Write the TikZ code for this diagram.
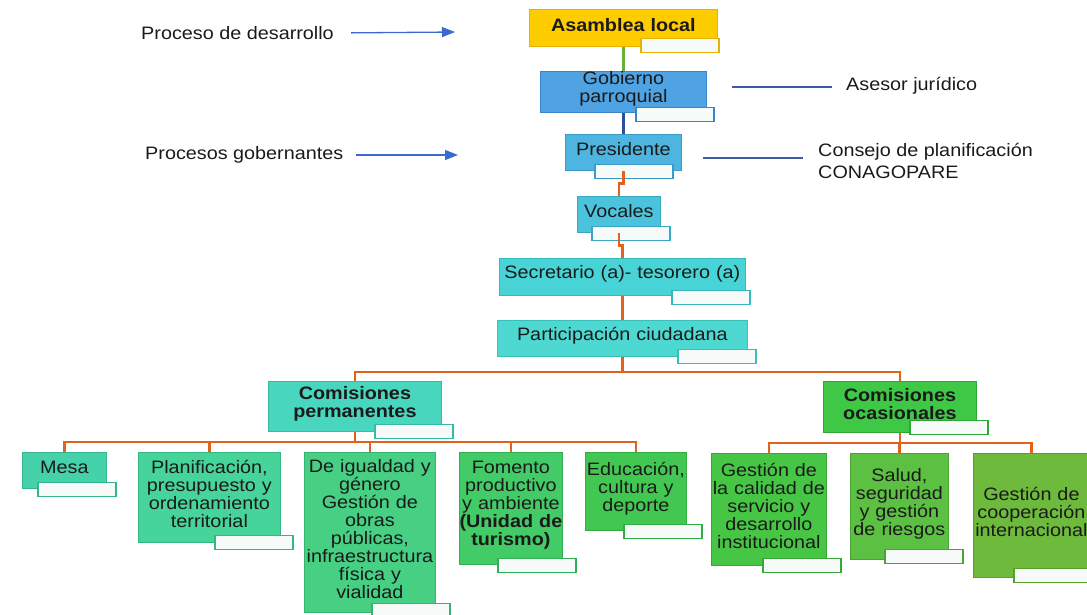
\documentclass[tikz,border=0pt]{standalone}
\usepackage{fontspec}
\setmainfont{Liberation Sans}[FakeStretch=1.1]
\usetikzlibrary{arrows.meta,calc}
\definecolor{asamF}{HTML}{FFCC00}\definecolor{asamD}{HTML}{E8B000}
\definecolor{gobF}{HTML}{4FA3E2}\definecolor{gobD}{HTML}{3A85C8}
\definecolor{presF}{HTML}{4DB5E0}\definecolor{presD}{HTML}{3A9ACB}
\definecolor{vocF}{HTML}{4CC3DD}\definecolor{vocD}{HTML}{38A8C4}
\definecolor{secF}{HTML}{48D3D6}\definecolor{secD}{HTML}{36B8BC}
\definecolor{partF}{HTML}{4DD9D2}\definecolor{partD}{HTML}{38BFB8}
\definecolor{permF}{HTML}{48D6BF}\definecolor{permD}{HTML}{35BBA5}
\definecolor{mesaF}{HTML}{45D2AA}\definecolor{mesaD}{HTML}{33B690}
\definecolor{planF}{HTML}{47D49A}\definecolor{planD}{HTML}{34B880}
\definecolor{igualF}{HTML}{47D084}\definecolor{igualD}{HTML}{35B46C}
\definecolor{fomF}{HTML}{43CB68}\definecolor{fomD}{HTML}{32AF52}
\definecolor{eduF}{HTML}{42C852}\definecolor{eduD}{HTML}{30AC40}
\definecolor{ocasF}{HTML}{3EC845}\definecolor{ocasD}{HTML}{2EA835}
\definecolor{calF}{HTML}{47C646}\definecolor{calD}{HTML}{35A835}
\definecolor{saludF}{HTML}{5CC142}\definecolor{saludD}{HTML}{48A532}
\definecolor{coopF}{HTML}{6DBA3C}\definecolor{coopD}{HTML}{58A02C}
\definecolor{orgline}{HTML}{E2621B}
\definecolor{grnline}{HTML}{6AAE3C}
\definecolor{bluline}{HTML}{2E4FA0}
\definecolor{arrblue}{HTML}{3A6AD0}
\definecolor{thinblue}{HTML}{3F5BA6}
\definecolor{txt}{HTML}{1A1A1A}
\definecolor{tagfill}{HTML}{F6FBF9}
\newcommand\tagat[4]{\node[tg=#2] (#1-t) at ($(#1.south east)+(#3,#4)$) {};}
\newcommand\liftend{\endgraf\vspace{6pt}}
\begin{document}
\begin{tikzpicture}[x=1pt,y=-1pt,
  font=\fontsize{18}{18}\selectfont, text=txt,
  bx/.style={draw=#1, line width=0.8pt, inner sep=0pt, anchor=north west, align=center,
    execute at end node={\liftend}},
  tg/.style={draw=#1, fill=tagfill, line width=1.5pt, minimum width=78pt, minimum height=14pt, inner sep=0pt, anchor=north east},
  lbl/.style={inner sep=0pt, anchor=west, align=left},
  org/.style={draw=orgline, line width=2.2pt},
  arr/.style={draw=arrblue, line width=1.3pt, -{Triangle[length=13pt,width=10pt]}},
  thin/.style={draw=thinblue, line width=1.2pt}]
\useasboundingbox (0,0) rectangle (1087,614);

% main column
\node[bx=asamD, fill=asamF, minimum width=188pt, minimum height=37pt, text width=184pt] (asam) at (529,9) {\textbf{Asamblea local}};
\node[bx=gobD, fill=gobF, minimum width=166pt, minimum height=37pt, text width=162pt] (gob) at (540,71) {Gobierno\\parroquial};
\node[bx=presD, fill=presF, minimum width=116pt, minimum height=36pt, text width=112pt] (pres) at (565,134) {Presidente};
\node[bx=vocD, fill=vocF, minimum width=83pt, minimum height=36pt, text width=79pt] (voc) at (577,196) {Vocales};
\node[bx=secD, fill=secF, minimum width=246pt, minimum height=37pt, text width=244pt] (sec) at (499,258) {Secretario (a)- tesorero (a)};
\node[bx=partD, fill=partF, minimum width=250pt, minimum height=36pt, text width=246pt] (part) at (497,320) {Participación ciudadana};

% commissions
\node[bx=permD, fill=permF, minimum width=173pt, minimum height=50pt, text width=169pt] (perm) at (268,381) {\textbf{Comisiones}\\\textbf{permanentes}};
\node[bx=ocasD, fill=ocasF, minimum width=153pt, minimum height=51pt, text width=149pt] (ocas) at (823,381) {\textbf{Comisiones}\\\textbf{ocasionales}};

\node[bx=mesaD, fill=mesaF, minimum width=84pt, minimum height=36pt, text width=80pt] (mesa) at (22,452) {Mesa};
\node[bx=planD, fill=planF, minimum width=142pt, minimum height=90pt, text width=140pt] (plan) at (138,452) {Planificación,\\presupuesto y\\ordenamiento\\territorial};
\node[bx=igualD, fill=igualF, minimum width=131pt, minimum height=160pt, text width=130pt] (igual) at (304,452) {De igualdad y\\género\\Gestión de\\obras\\públicas,\\infraestructura\\física y\\vialidad};
\node[bx=fomD, fill=fomF, minimum width=103pt, minimum height=112pt, text width=103pt] (fom) at (459,452) {Fomento\\productivo\\y ambiente\\\textbf{(Unidad de}\\\textbf{turismo)}};
\node[bx=eduD, fill=eduF, minimum width=101pt, minimum height=78pt, text width=99pt] (edu) at (585,452) {Educación,\\cultura y\\deporte};

\node[bx=calD, fill=calF, minimum width=115pt, minimum height=112pt, text width=114pt] (cal) at (711,453) {Gestión de\\la calidad de\\servicio y\\desarrollo\\institucional};
\node[bx=saludD, fill=saludF, minimum width=98pt, minimum height=106pt, text width=96pt] (salud) at (850,453) {Salud,\\seguridad\\y gestión\\de riesgos};
\node[bx=coopD, fill=coopF, minimum width=116pt, minimum height=124pt, text width=116pt] (coop) at (973,453) {Gestión de\\cooperación\\internacional};

% tags
\tagat{asam}{asamD}{2}{-9}
\tagat{gob}{gobD}{8}{-6}
\tagat{pres}{presD}{-8}{-7}
\tagat{voc}{vocD}{10}{-7}
\tagat{sec}{secD}{5}{-6}
\tagat{part}{partD}{9}{-8}
\tagat{perm}{permD}{12}{-8}
\tagat{ocas}{ocasD}{12}{-13}
\tagat{mesa}{mesaD}{10}{-7}
\tagat{plan}{planD}{13}{-8}
\tagat{igual}{igualD}{15}{-10}
\tagat{fom}{fomD}{14}{-7}
\tagat{edu}{eduD}{16}{-7}
\tagat{cal}{calD}{15}{-8}
\tagat{salud}{saludD}{15}{-11}
\tagat{coop}{coopD}{3}{-10}

% main column connectors
\draw[draw=grnline, line width=2.2pt] (asam.south) -- (gob.north);
\draw[draw=bluline, line width=2.2pt] (gob.south) -- (pres.north);
\draw[org] (pres.south) |- ($(pres.south)!0.5!(voc.north)$) -| (voc.north);
\draw[org] (voc.south) |- ($(voc.south)!0.5!(sec.north)$) -| (sec.north);
\draw[org] (sec.south) -- (part.north);

% tree connectors
\path (part.south) ++(0,15) coordinate (pbar);
\draw[org] (part.south) -- (pbar) -| (perm.north);
\draw[org] (pbar) -| (ocas.north);

\path (perm.south) ++(0,10) coordinate (permbar);
\draw[org] (perm.south) -- (permbar);
\foreach \c in {mesa,plan,igual,fom,edu} \draw[org] (permbar) -| (\c.north);

\path (ocas.south) ++(0,10) coordinate (ocasbar);
\draw[org] (ocas.south) -- (ocasbar);
\foreach \c in {cal,salud,coop} \draw[org] (ocasbar) -| (\c.north);

% side labels
\node[lbl] (desa) at (141,33) {Proceso de desarrollo};
\coordinate (desaend) at (455,32);
\draw[arr, shorten <=17pt] (desa.east) -- (desaend);

\node[lbl] (gobern) at (145,155) {Procesos gobernantes};
\coordinate (gobernend) at (458,155);
\draw[arr, shorten <=12pt] (gobern.east) -- (gobernend);

\node[lbl] (asesor) at (846,86) {Asesor jurídico};
\coordinate (asesorstart) at (732,87);
\draw[thin, shorten >=14pt] (asesorstart) -- (asesor.west |- asesorstart);

\node[lbl, font=\fontsize{18}{22}\selectfont] (consejo) at (818,161) {Consejo de planificación\\CONAGOPARE};
\coordinate (consejostart) at (703,158);
\draw[thin, shorten >=15pt] (consejostart) -- (consejo.west |- consejostart);
\end{tikzpicture}
\end{document}
